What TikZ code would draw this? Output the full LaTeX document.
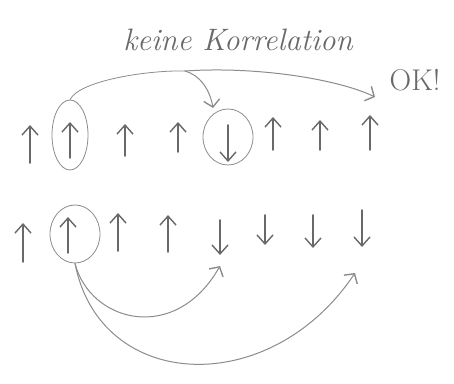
\documentclass[tikz,border=0pt]{standalone}
\usetikzlibrary{arrows.meta,shapes.geometric}
\definecolor{pen}{RGB}{105,105,105}
\definecolor{faint}{RGB}{140,140,140}
\begin{document}
\begin{tikzpicture}[x=1pt,y=-1pt,
  spin/.style={draw=pen,line width=1.6pt,line cap=round,-{Straight Barb[length=9pt,width=16pt,line width=1.4pt]}},
  ring/.style={draw=faint,ellipse,line width=0.8pt,inner sep=0pt},
  link/.style={draw=faint,line width=1pt,line cap=round,-{Straight Barb[length=7pt,width=16pt,line width=1.4pt]}},
  lbl/.style={text=pen,font=\itshape\fontsize{31}{31}\selectfont}]
\useasboundingbox (0,0) rectangle (454,383);
\fill[white] (0,0) rectangle (454,383);
% labels
\node[lbl] (keine) at (238,40) {keine Korrelation};
\node[lbl,font=\fontsize{30}{30}\selectfont] (ok) at (415,80) {OK!};
% top row
\draw[spin] (30,163) -- (30,125);
\draw[spin] (70,158) -- (70,122);
\draw[spin] (125,156) -- (125,124);
\draw[spin] (178,152) -- (178,122);
\draw[spin] (228,125) -- (228,162);
\draw[spin] (273,150) -- (273,117);
\draw[spin] (320,150) -- (320,120);
\draw[spin] (370,150) -- (370,115);
\node[ring,minimum width=36pt,minimum height=70pt] (c1) at (70,135) {};
\node[ring,minimum width=50pt,minimum height=56pt] (c2) at (228,137) {};
\coordinate (b1) at (185,71);
\coordinate (t2) at (213,108);
\coordinate (t3) at (375,97);
\draw[draw=faint,line width=0.8pt] (c1.north) .. controls (80,80) and (150,70) .. (b1);
\draw[link] (b1) .. controls (200,75) and (210,90) .. (t2);
\draw[link] (b1) .. controls (260,66) and (340,80) .. (t3);
% bottom row
\draw[spin] (23,262) -- (23,223);
\draw[spin] (68,253) -- (68,217);
\draw[spin] (118,251) -- (118,213);
\draw[spin] (168,252) -- (168,215);
\draw[spin] (220,220) -- (220,255);
\draw[spin] (265,215) -- (265,245);
\draw[spin] (313,215) -- (313,248);
\draw[spin] (362,210) -- (362,247);
\node[ring,minimum width=50pt,minimum height=58pt] (c3) at (75,234) {};
\coordinate (t4) at (220,266);
\coordinate (t5) at (355,273);
\draw[link] (c3.south) .. controls (90,322) and (175,345) .. (t4);
\draw[link] (c3.south) .. controls (100,392) and (270,400) .. (t5);
\end{tikzpicture}
\end{document}
